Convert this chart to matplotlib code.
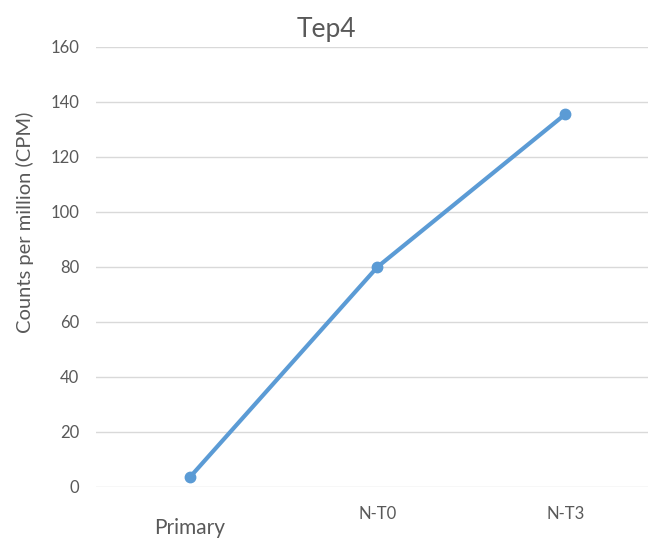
import matplotlib
matplotlib.use('Agg')
import matplotlib.pyplot as plt

samples = ['Primary', 'N-T0', 'N-T3']
cpm = [3.5, 80, 135.5]
y_ticks = [0, 20, 40, 60, 80, 100, 120, 140, 160]

plt.rcParams['font.family'] = ['Lato', 'DejaVu Sans']

fig = plt.figure(figsize=(6.48, 5.38), dpi=100)
ax = fig.add_axes([0.148, 0.0948, 0.869, 0.818])

x = list(range(len(samples)))
ax.plot(x, cpm, color='#5B9BD5', linewidth=3.0, marker='o', markersize=7.5,
        solid_capstyle='round', zorder=3)

ax.set_xlim(-0.5, 2.5)
ax.set_ylim(0, 160)
ax.set_yticks(y_ticks)
ax.set_xticks(x)
ax.set_xticklabels(samples)

ax.grid(axis='y', color='#D9D9D9', linewidth=1.0)
ax.set_axisbelow(True)
for s in ax.spines.values():
    s.set_visible(False)

ax.tick_params(axis='y', length=0, pad=12, labelsize=12, labelcolor='#595959')
ax.tick_params(axis='x', length=0, pad=14, labelsize=12, labelcolor='#595959')

# first category label sits lower and a bit larger
first = ax.xaxis.get_major_ticks()[0]
first.set_pad(22)
first.label1.set_fontsize(15)

fig.text(25 / 648, 1 - 222 / 538, 'Counts per million (CPM)', rotation=90,
         ha='center', va='center', fontsize=14.5, color='#595959')
fig.text(0.503, 0.946, 'Tep4', ha='center', va='center', fontsize=19, color='#595959')

fig.savefig('out.png', dpi=100)
